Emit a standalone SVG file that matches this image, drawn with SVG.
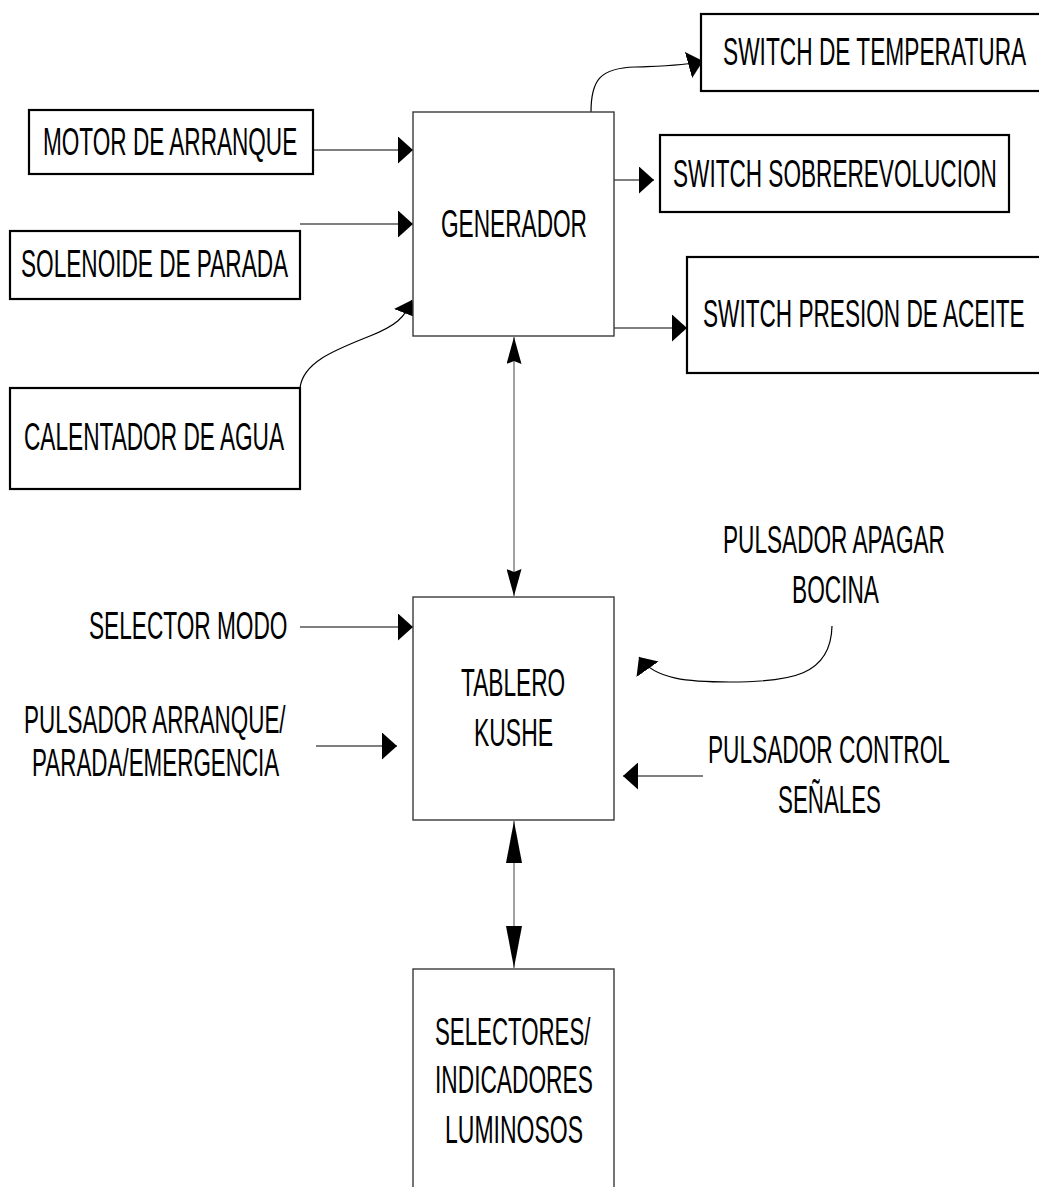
<svg xmlns="http://www.w3.org/2000/svg" width="1039" height="1187" viewBox="0 0 1039 1187">
  <style>
    .lbl { font-family: "Liberation Sans", Arial, sans-serif; font-size: 39px; fill: #000; }
    .src { fill: #fff; stroke: #000; stroke-width: 2.2; }
    .core { fill: #fff; stroke: #3a3a3a; stroke-width: 1.4; }
    .wire { fill: none; stroke: #000; stroke-width: 1.2; }
    .bus { fill: none; stroke: #707070; stroke-width: 1.3; }
  </style>
  <defs>
    <marker id="head" viewBox="0 0 15 27" refX="15" refY="13.5" markerWidth="15" markerHeight="27" markerUnits="userSpaceOnUse" orient="auto">
      <path d="M0,0 L15,13.5 L0,27 Z" fill="#000"/>
    </marker>
    <marker id="head-mid" viewBox="0 0 27 15" refX="27" refY="7.5" markerWidth="27" markerHeight="15" markerUnits="userSpaceOnUse" orient="auto-start-reverse">
      <path d="M0,0 L27,7.5 L0,15 L3,7.5 Z" fill="#000"/>
    </marker>
    <marker id="head-long" viewBox="0 0 42 16" refX="42" refY="8" markerWidth="42" markerHeight="16" markerUnits="userSpaceOnUse" orient="auto-start-reverse">
      <path d="M0,0 L42,8 L0,16 Z" fill="#000"/>
    </marker>
  </defs>

  <rect width="1039" height="1187" fill="#fff"/>

  <!-- connectors -->
  <g id="connectors">
    <path class="wire" d="M314,150 H413" marker-end="url(#head)"/>
    <path class="wire" d="M300,224 H413" marker-end="url(#head)"/>
    <path class="wire" d="M300,388 C303,362 335,350 370,336 C395,326 405,318 412,300" marker-end="url(#head)"/>
    <path class="wire" d="M591,112 C591,80 600,68 635,67 C660,66 685,66 703,61" marker-end="url(#head)"/>
    <path class="wire" d="M614,180 H654" marker-end="url(#head)"/>
    <path class="wire" d="M614,328 H687" marker-end="url(#head)"/>
    <path class="bus" d="M514,337 V596" marker-start="url(#head-mid)" marker-end="url(#head-mid)"/>
    <path class="wire" d="M300,627 H413" marker-end="url(#head)"/>
    <path class="wire" d="M316,746 H397" marker-end="url(#head)"/>
    <path class="wire" d="M832,626 C831,676 790,682 730,682 C690,682 655,680 639,657" marker-end="url(#head)"/>
    <path class="wire" d="M703,776 H623" marker-end="url(#head)"/>
    <path class="bus" d="M514,821 V968" marker-start="url(#head-long)" marker-end="url(#head-long)"/>
  </g>

  <!-- input devices around the generator (labels use a condensed horizontal scale) -->
  <g id="motor-arranque">
    <rect class="src" x="29" y="110" width="284" height="64"/>
    <text class="lbl" transform="matrix(0.579 0 0 1 43 155)">MOTOR DE ARRANQUE</text>
  </g>
  <g id="solenoide-parada">
    <rect class="src" x="10" y="231" width="290" height="68"/>
    <text class="lbl" transform="matrix(0.58 0 0 1 21 277)">SOLENOIDE DE PARADA</text>
  </g>
  <g id="calentador-agua">
    <rect class="src" x="10" y="388" width="290" height="101"/>
    <text class="lbl" transform="matrix(0.581 0 0 1 24 450)">CALENTADOR DE AGUA</text>
  </g>

  <!-- generator -->
  <g id="generador">
    <rect class="core" x="413" y="112" width="201" height="224"/>
    <text class="lbl" transform="matrix(0.581 0 0 1 441 237)">GENERADOR</text>
  </g>

  <!-- protection switches -->
  <g id="switch-temperatura">
    <rect class="src" x="701" y="14" width="360" height="77"/>
    <text class="lbl" transform="matrix(0.5825 0 0 1 723 65)">SWITCH DE TEMPERATURA</text>
  </g>
  <g id="switch-sobrerevolucion">
    <rect class="src" x="660" y="135" width="349" height="77"/>
    <text class="lbl" transform="matrix(0.5795 0 0 1 673 187)">SWITCH SOBREREVOLUCION</text>
  </g>
  <g id="switch-presion-aceite">
    <rect class="src" x="687" y="257" width="360" height="116"/>
    <text class="lbl" transform="matrix(0.58 0 0 1 703 327)">SWITCH PRESION DE ACEITE</text>
  </g>

  <!-- control panel -->
  <g id="tablero-kushe">
    <rect class="core" x="413" y="597" width="201" height="223"/>
    <text class="lbl" transform="matrix(0.582 0 0 1 461 696)">TABLERO</text>
    <text class="lbl" transform="matrix(0.588 0 0 1 474 746)">KUSHE</text>
  </g>

  <!-- panel inputs -->
  <g id="selector-modo">
    <text class="lbl" transform="matrix(0.581 0 0 1 89 639)">SELECTOR MODO</text>
  </g>
  <g id="pulsador-arranque">
    <text class="lbl" transform="matrix(0.575 0 0 1 24 733)">PULSADOR ARRANQUE/</text>
    <text class="lbl" transform="matrix(0.5745 0 0 1 32 776)">PARADA/EMERGENCIA</text>
  </g>
  <g id="pulsador-bocina">
    <text class="lbl" transform="matrix(0.58 0 0 1 723 553)">PULSADOR APAGAR</text>
    <text class="lbl" transform="matrix(0.582 0 0 1 792 603)">BOCINA</text>
  </g>
  <g id="pulsador-control">
    <text class="lbl" transform="matrix(0.5816 0 0 1 708 763)">PULSADOR CONTROL</text>
    <text class="lbl" transform="matrix(0.5725 0 0 1 778 813)">SEÑALES</text>
  </g>

  <!-- panel outputs -->
  <g id="selectores-indicadores">
    <rect class="core" x="413" y="969" width="201" height="240"/>
    <text class="lbl" transform="matrix(0.571 0 0 1 435 1045)">SELECTORES/</text>
    <text class="lbl" transform="matrix(0.583 0 0 1 435 1093)">INDICADORES</text>
    <text class="lbl" transform="matrix(0.59 0 0 1 445 1143)">LUMINOSOS</text>
  </g>
</svg>
